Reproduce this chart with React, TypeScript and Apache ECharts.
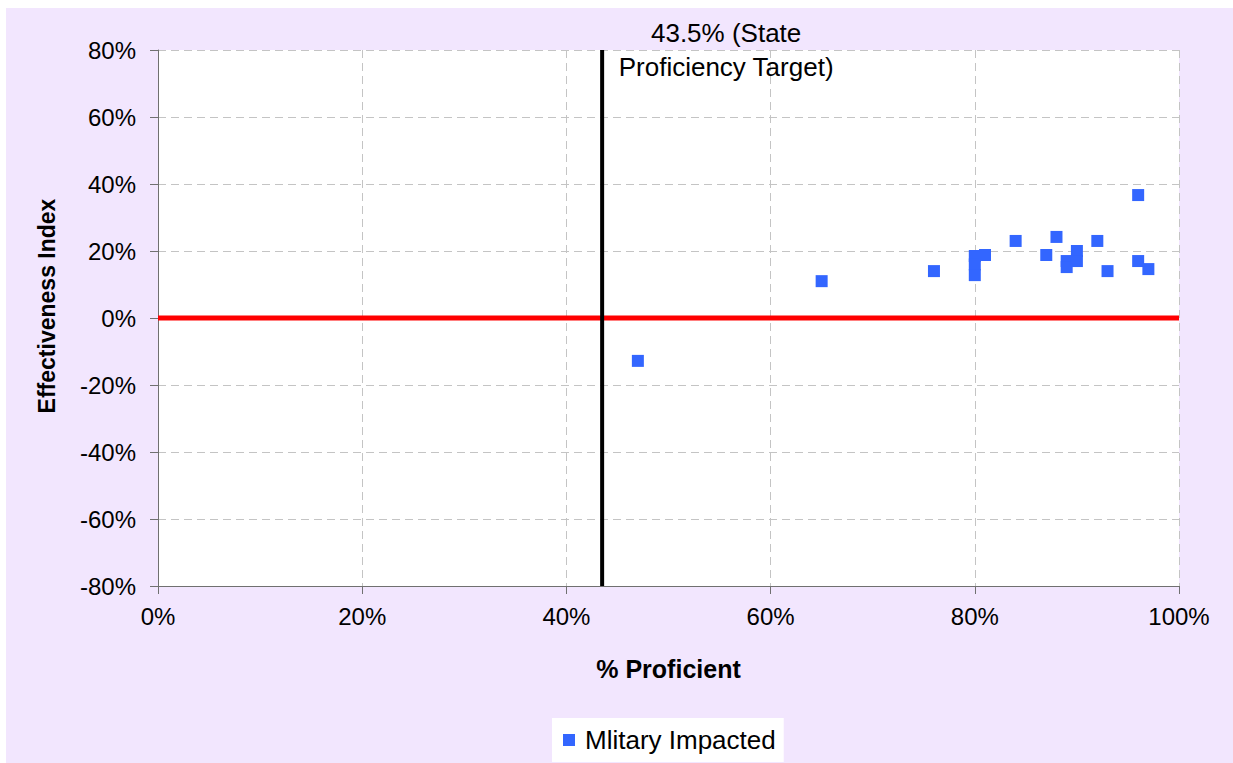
import React, { useEffect, useRef } from "react";
import * as echarts from "echarts";

// % Proficient (x) and Effectiveness Index (y), in percent
const proficiency = [47, 65, 76, 80, 80, 80, 81, 84, 87, 88, 89, 89, 90, 90, 92, 93, 96, 96, 97];
const effectiveness = [-12.8, 11.0, 14.0, 18.5, 16.0, 12.8, 18.8, 23.0, 18.8, 24.2, 17.0, 15.2, 20.0, 17.0, 23.0, 14.0, 36.7, 17.0, 14.6];
const seriesName = "Mlitary Impacted";
const targetProficiency = 43.5;
const targetLabel = "43.5% (State\nProficiency Target)";
const xAxisRange = [0, 100];
const yAxisRange = [-80, 80];
const tickStep = 20;
const xTitle = "% Proficient";
const yTitle = "Effectiveness Index";

export default function App() {
  const ref = useRef<HTMLDivElement>(null);
  useEffect(() => {
    document.body.style.margin = "0";
    const chart = echarts.init(ref.current!, null, { renderer: "svg" });
    const font = "Arial, 'Liberation Sans', sans-serif";
    const axisCommon = {
      type: "value",
      interval: tickStep,
      axisLine: { show: true, onZero: false, lineStyle: { color: "#707070", width: 1 } },
      axisTick: { show: true, inside: false, length: 8, lineStyle: { color: "#707070" } },
      splitLine: { show: true, lineStyle: { color: "#c4c4c4", type: [8, 5], width: 1 } },
      axisLabel: {
        fontFamily: font,
        fontSize: 24,
        color: "#000",
        formatter: (v: number) => Math.round(v) + "%",
      },
    };
    chart.setOption({
      animation: false,
      grid: {
        left: 158,
        top: 50,
        right: 54,
        bottom: 177,
        show: true,
        backgroundColor: "#ffffff",
        borderWidth: 0,
      },
      xAxis: {
        ...axisCommon,
        min: xAxisRange[0],
        max: xAxisRange[1],
        name: xTitle,
        nameLocation: "middle",
        nameGap: 70,
        nameTextStyle: { fontFamily: font, fontSize: 25, fontWeight: "bold", color: "#000" },
        axisLabel: { ...axisCommon.axisLabel, margin: 18 },
      },
      yAxis: {
        ...axisCommon,
        min: yAxisRange[0],
        max: yAxisRange[1],
        name: yTitle,
        nameLocation: "middle",
        nameRotate: 90,
        nameGap: 100,
        nameTextStyle: {
          fontFamily: font,
          fontSize: 23,
          fontWeight: "bold",
          color: "#000",
          padding: [0, 0, 0, 24],
        },
        axisLabel: { ...axisCommon.axisLabel, margin: 22 },
      },
      legend: {
        data: [seriesName],
        left: 552,
        top: 718,
        backgroundColor: "#ffffff",
        padding: [9, 8, 9, 11],
        itemWidth: 12,
        itemHeight: 12,
        itemGap: 10,
        icon: "rect",
        textStyle: { fontFamily: font, fontSize: 26, color: "#000", padding: [0, 0, 0, 5] },
      },
      series: [
        {
          name: "zero",
          type: "line",
          data: [[xAxisRange[0], 0], [xAxisRange[1], 0]],
          symbol: "none",
          lineStyle: { color: "#ff0000", width: 5 },
          silent: true,
          z: 3,
        },
        {
          name: "target",
          type: "line",
          data: [[targetProficiency, yAxisRange[0]], [targetProficiency, yAxisRange[1]]],
          symbol: "none",
          lineStyle: { color: "#000000", width: 4 },
          silent: true,
          z: 3,
        },
        {
          name: seriesName,
          type: "scatter",
          symbol: "rect",
          symbolSize: 12,
          itemStyle: { color: "#3366ff", opacity: 1 },
          data: proficiency.map((x, i) => [x, effectiveness[i]]),
          z: 5,
        },
      ],
    });
    const [px, py] = chart.convertToPixel({ gridIndex: 0 }, [targetProficiency, yAxisRange[1]]) as number[];
    chart.setOption({
      graphic: [
        {
          type: "rect",
          z: -100,
          silent: true,
          shape: { x: 6, y: 8, width: 1233 - 6, height: 763 - 8 },
          style: { fill: "#f2e6fe" },
        },
        {
          type: "text",
          x: px + 124,
          y: py,
          z: 10,
          style: {
            text: targetLabel,
            fontFamily: font,
            fontSize: 26,
            lineHeight: 34,
            fill: "#000",
            align: "center",
            verticalAlign: "middle",
          },
        },
      ],
    });
    return () => chart.dispose();
  }, []);
  return <div ref={ref} style={{ width: 1233, height: 763 }} />;
}
